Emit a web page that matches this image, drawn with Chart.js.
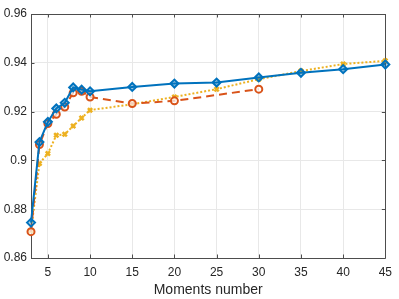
<!DOCTYPE html>
<html><head><meta charset="utf-8">
<script src="https://cdn.jsdelivr.net/npm/chart.js@4"></script>
<style>html,body{margin:0;padding:0;background:#fff;}#wrap{width:399px;height:299px;}</style>
</head><body><div id="wrap"><canvas id="c" width="399" height="299"></canvas></div>
<script>
const xBlue   = [3,4,5,6,7,8,9,10,15,20,25,30,35,40,45];
const yBlue   = [0.8745,0.9075,0.9158,0.9213,0.9236,0.9299,0.9290,0.9283,0.9301,0.9315,0.9319,0.9340,0.9359,0.9374,0.9393];
const xRed    = [3,4,5,6,7,8,9,10,15,20,30];
const yRed    = [0.8708,0.9065,0.9151,0.9189,0.9219,0.9277,0.9283,0.9260,0.9233,0.9244,0.9292];
const xYellow = [3,4,5,6,7,8,9,10,15,20,25,30,35,40,45];
const yYellow = [0.8712,0.8987,0.9028,0.9103,0.9107,0.9141,0.9174,0.9206,0.9230,0.9260,0.9292,0.9333,0.9366,0.9395,0.9408];
const xTicks  = [5,10,15,20,25,30,35,40,45];
const yTicks  = [0.86,0.88,0.90,0.92,0.94,0.96];
const xTitle  = 'Moments number';

const pts = (xs, ys) => xs.map((x, i) => ({x: x, y: ys[i]}));
const FONT = '"Liberation Sans", Arial, Helvetica, sans-serif';

const boxPlugin = {
  id: 'box',
  beforeDatasetsDraw(chart) {
    const {ctx, chartArea: a, scales: {x, y}} = chart;
    ctx.save();
    ctx.strokeStyle = '#4d4d4d';
    ctx.lineWidth = 1;
    ctx.beginPath();
    ctx.rect(Math.round(a.left) + 0.5, Math.round(a.top) + 0.5, Math.round(a.right - a.left), Math.round(a.bottom - a.top));
    ctx.stroke();
    const tl = 3.5;
    ctx.beginPath();
    xTicks.forEach(v => {
      const px = Math.round(x.getPixelForValue(v)) + 0.5;
      ctx.moveTo(px, a.bottom); ctx.lineTo(px, a.bottom - tl);
      ctx.moveTo(px, a.top); ctx.lineTo(px, a.top + tl);
    });
    yTicks.forEach(v => {
      const py = Math.round(y.getPixelForValue(v)) + 0.5;
      ctx.moveTo(a.left, py); ctx.lineTo(a.left + tl, py);
      ctx.moveTo(a.right, py); ctx.lineTo(a.right - tl, py);
    });
    ctx.stroke();
    ctx.restore();
  }
};

new Chart(document.getElementById('c'), {
  type: 'line',
  data: {
    datasets: [
      { data: pts(xBlue, yBlue), borderColor: '#0072BD', backgroundColor: 'rgba(0,114,189,0.35)', clip: false,
        borderWidth: 2, pointStyle: 'rectRot', pointRadius: 4, pointBorderWidth: 2, tension: 0 },
      { data: pts(xRed, yRed), borderColor: '#D95319', backgroundColor: 'rgba(255,255,255,0.7)', clip: false,
        borderWidth: 2, borderDash: [8, 5], pointStyle: 'circle', pointRadius: 3.5, pointBorderWidth: 2, tension: 0 },
      { data: pts(xYellow, yYellow), borderColor: '#EDB120', backgroundColor: '#EDB120', clip: false,
        borderWidth: 2, borderDash: [2, 2], pointStyle: 'crossRot', pointRadius: 3, pointBorderWidth: 2.5, tension: 0 }
    ]
  },
  options: {
    responsive: false,
    animation: false,
    layout: { padding: { left: 0, right: 8, top: 14, bottom: 0 } },
    plugins: { legend: { display: false }, tooltip: { enabled: false } },
    scales: {
      x: {
        type: 'linear', min: 3, max: 45,
        afterBuildTicks: ax => { ax.ticks = xTicks.map(v => ({value: v})); },
        afterFit: ax => { ax.height = 41; },
        grid: { color: '#e8e8e8', drawTicks: false },
        border: { display: false },
        ticks: { padding: 7, color: '#262626', font: { family: FONT, size: 12 }, maxRotation: 0,
                 callback: v => String(v) },
        title: { display: true, text: xTitle, color: '#262626', font: { family: FONT, size: 14 }, padding: { top: 3, bottom: 0 } }
      },
      y: {
        min: 0.86, max: 0.96,
        afterBuildTicks: ax => { ax.ticks = yTicks.map(v => ({value: v})); },
        afterFit: ax => { ax.width = 31; },
        grid: { color: '#e8e8e8', drawTicks: false },
        border: { display: false },
        ticks: { padding: 4, color: '#262626', font: { family: FONT, size: 12 },
                 callback: v => String(+v.toFixed(2)) }
      }
    }
  },
  plugins: [boxPlugin]
});
</script>
</body></html>
